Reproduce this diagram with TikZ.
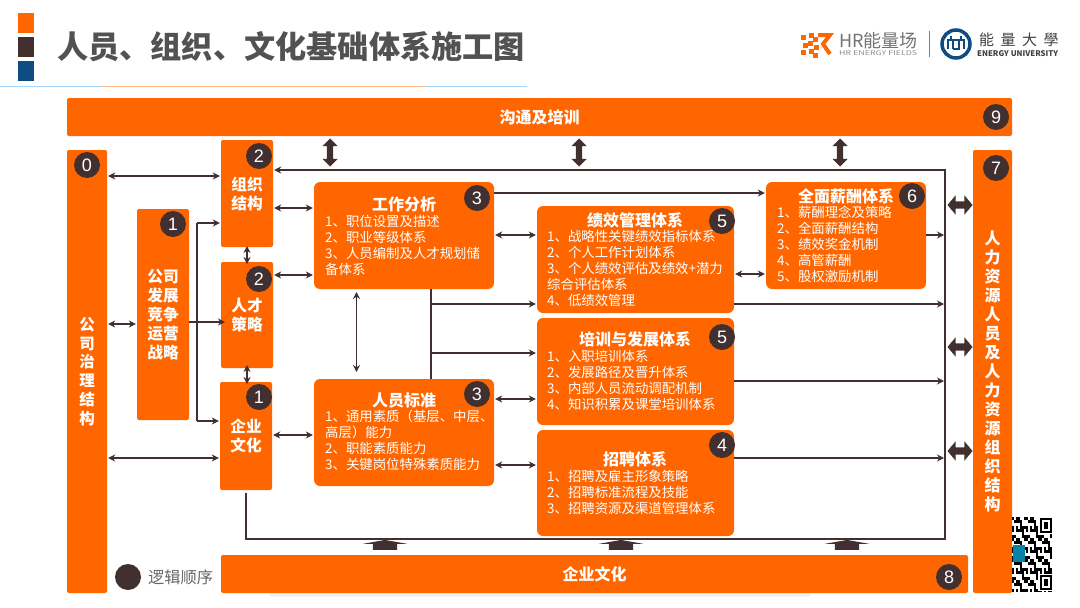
\documentclass[tikz,border=0pt]{standalone}
\usepackage{fontspec}
\setmainfont{Noto Sans CJK SC}
\newfontfamily\numfont{Liberation Sans}
\usetikzlibrary{shapes.arrows, arrows.meta}
\definecolor{hrorange}{HTML}{FF6600}
\definecolor{hrdark}{HTML}{41302F}
\definecolor{hrblue}{HTML}{0F4C81}
\tikzstyle{bar} = [rectangle, rounded corners=2pt, fill=hrorange, inner sep=0pt, text=white, font=\fontsize{15.7}{19}\selectfont\bfseries, align=center]
\tikzstyle{panel} = [rectangle, rounded corners=6pt, fill=hrorange, inner sep=0pt]
\tikzstyle{head} = [inner sep=0pt, text=white, font=\fontsize{16}{19}\selectfont\bfseries]
\tikzstyle{list} = [anchor=north west, inner sep=0pt, text=white, align=left, font=\fontsize{13.4}{16}\selectfont]
\tikzstyle{badge} = [circle, fill=hrdark, text=white, minimum size=26pt, inner sep=0pt, font=\fontsize{18}{18}\selectfont\numfont]
\tikzstyle{arrow} = [draw=hrdark, line width=1.2pt, shorten >=1pt, -{Stealth[length=7pt,width=7pt]}]
\tikzstyle{both} = [draw=hrdark, line width=1.2pt, shorten >=1pt, shorten <=1pt, {Stealth[length=7pt,width=7pt]}-{Stealth[length=7pt,width=7pt]}]
\tikzstyle{plain} = [draw=hrdark, line width=1.2pt]
\tikzstyle{updown} = [double arrow, rotate=90, fill=hrdark, inner xsep=0pt, inner ysep=3pt, minimum height=28pt, double arrow head extend=4.5pt]
\tikzstyle{leftright} = [double arrow, fill=hrdark, inner xsep=0pt, inner ysep=3.5pt, minimum height=25pt, double arrow head extend=6pt, double arrow tip angle=100]
\tikzstyle{upflat} = [single arrow, rotate=90, fill=hrdark, inner xsep=0pt, inner ysep=12pt, minimum height=10pt, single arrow head extend=10pt, single arrow tip angle=160]

\begin{document}
\begin{tikzpicture}[x=1pt, y=-1pt]
\useasboundingbox (0,0) rectangle (1080,608);

% title
\fill[hrorange] (18,13) rectangle (34,33);
\fill[hrdark] (18,37) rectangle (34,57);
\fill[hrblue] (18,61) rectangle (34,81);
\node(title)[anchor=west, inner sep=0pt, text=black!68, font=\fontsize{31.2}{31}\selectfont\bfseries] at (57,47){人员、组织、文化基础体系施工图};
\fill[blue!45!cyan!35!white] (0,85.5) rectangle (527,86.8);
\fill[hrorange!45] (102,85.5) rectangle (426,86.8);

% logos
\foreach \x/\y in {801/35, 803/43, 801/50, 809/33, 808/41, 809/49, 813/37, 814/45, 813/53}
  \fill[hrorange] (\x,\y) rectangle ++(4.5,4.5);
\draw[hrorange, line width=4pt] (818,35) -- (830,35) -- (823,44) -- (830,54);
\node(hrname)[anchor=west, inner sep=0pt, text=black!55, font=\fontsize{18}{18}\selectfont] at (839,41){HR能量场};
\node(hrsub)[anchor=west, inner sep=0pt, text=black!45, font=\fontsize{6.5}{7}\selectfont] at (839,53){\scalebox{1.36}[1]{HR ENERGY FIELDS}};
\draw[black!50, line width=0.6pt] (929.5,31) -- (929.5,57);
\node(unilogo)[circle, draw=hrblue, line width=3.5pt, minimum size=28pt, inner sep=0pt] at (956,44){};
\draw[hrblue, line width=1.6pt] (948,49) -- (948,40) -- (964,40) -- (964,49) (953,49) -- (953,40) (959,40) -- (959,49) -- (953,49) (951,36) -- (951,40) (961,36) -- (961,40);
\node(uniname)[anchor=west, inner sep=0pt, text=black!75, font=\fontsize{15}{15}\selectfont] at (979,40){能\hspace{6.5pt}量\hspace{6.5pt}大\hspace{6.5pt}學};
\node(unisub)[anchor=west, inner sep=0pt, text=black!75, font=\fontsize{7.8}{8}\selectfont\bfseries] at (977,54){ENERGY UNIVERSITY};

% long bars
\fill[black!5] (270,593) rectangle (810,597);
\node(comm)[bar, minimum width=945pt, minimum height=38pt, font=\fontsize{16}{19}\selectfont\bfseries] at (539.5,117){\raisebox{-1.5pt}{沟通及培训}};
\node(base)[bar, minimum width=747pt, minimum height=38pt, font=\fontsize{16}{19}\selectfont\bfseries] at (594.5,574){\raisebox{-1.5pt}{企业文化}};
\node(gov)[bar, minimum width=40pt, minimum height=443pt, font=\fontsize{15.5}{18.8}\selectfont\bfseries] at (87,371.5){公\\司\\治\\理\\结\\构};
\node(hr)[bar, minimum width=39pt, minimum height=443pt, font=\fontsize{16}{19}\selectfont\bfseries] at (992.5,371.5){人\\力\\资\\源\\人\\员\\及\\人\\力\\资\\源\\组\\织\\结\\构};

% left column
\node(strat)[bar, minimum width=52pt, minimum height=211pt] at (163,314.5){公司\\发展\\竞争\\运营\\战略};
\node(org)[bar, minimum width=52pt, minimum height=107pt] at (247,193.5){组织\\结构};
\node(talent)[bar, minimum width=52pt, minimum height=106pt] at (247,315){人才\\策略};
\node(culture)[bar, minimum width=52pt, minimum height=108pt] at (246,436){企业\\文化};

% panels
\node(job)[panel, minimum width=180pt, minimum height=107pt] at (404,235.5){};
\node(std)[panel, minimum width=180pt, minimum height=107pt] at (404,432.5){};
\node(perf)[panel, minimum width=197pt, minimum height=107pt] at (635.5,259.5){};
\node(train)[panel, minimum width=197pt, minimum height=107pt] at (635.5,371.5){};
\node(recruit)[panel, minimum width=197pt, minimum height=106pt] at (635.5,483){};
\node(pay)[panel, minimum width=160pt, minimum height=107pt] at (846,235.5){};

\node(jobh)[head] at (404,204){工作分析};
\node(jobl)[list] at (325,215){1、职位设置及描述\\2、职业等级体系\\3、人员编制及人才规划储\\备体系};
\node(stdh)[head] at (404,401){人员标准};
\node(stdl)[list] at (325,409.5){1、通用素质（基层、中层、\\高层）能力\\2、职能素质能力\\3、关键岗位特殊素质能力};
\node(perfh)[head] at (635,220){绩效管理体系};
\node(perfl)[list] at (547,230){1、战略性关键绩效指标体系\\2、个人工作计划体系\\3、个人绩效评估及绩效+潜力\\综合评估体系\\4、低绩效管理};
\node(trainh)[head] at (635,339){培训与发展体系};
\node(trainl)[list] at (547,350){1、入职培训体系\\2、发展路径及晋升体系\\3、内部人员流动调配机制\\4、知识积累及课堂培训体系};
\node(recruith)[head] at (635,459){招聘体系};
\node(recruitl)[list] at (547,470){1、招聘及雇主形象策略\\2、招聘标准流程及技能\\3、招聘资源及渠道管理体系};
\node(payh)[head] at (846,196){全面薪酬体系};
\node(payl)[list] at (777,206){1、薪酬理念及策略\\2、全面薪酬结构\\3、绩效奖金机制\\4、高管薪酬\\5、股权激励机制};

% order badges
\node(b0)[badge] at (87,165){0};
\node(b1a)[badge] at (173,224){1};
\node(b2a)[badge] at (259,156){2};
\node(b2b)[badge] at (259,279){2};
\node(b1b)[badge] at (259,397){1};
\node(b3a)[badge] at (477,198){3};
\node(b3b)[badge] at (477,394){3};
\node(b5a)[badge] at (722,221){5};
\node(b5b)[badge] at (722,337){5};
\node(b4)[badge] at (722,445){4};
\node(b6)[badge] at (912,196){6};
\node(b7)[badge] at (996,168){7};
\node(b9)[badge] at (996,117){9};
\node(b8)[badge] at (949,577){8};
\node(legend)[badge] at (128,577){};
\node(legendt)[anchor=west, inner sep=0pt, text=black!60, font=\fontsize{16.2}{16}\selectfont] at (148,577){逻辑顺序};

% frame round the panels
\coordinate(framea) at (945,170);
\coordinate(frameb) at (945,539);
\coordinate(framec) at (246,539);
\coordinate(framed) at (246,493);
\draw[arrow](framed) -- (framec) -- (frameb) -- (framea) -- (org.east |- framea);

% left side links
\draw[both](gov.east |- 0,176) -- (org.west |- 0,176);
\draw[both](gov.east |- 0,324) -- (strat.west |- 0,324);
\draw[both](gov.east |- 0,458) -- (culture.west |- 0,458);
\coordinate(forka) at (197,223);
\coordinate(forkb) at (197,421);
\draw[arrow](strat.east |- 0,322) -- (226,322);
\draw[arrow](forka) -- (org.west |- forka);
\draw[arrow](forkb) -- (culture.west |- forkb);
\draw[plain](forka) -- (forkb);
\draw[both](247,245) -- (247,265);
\draw[both](247,364) -- (247,385);
\draw[both](org.east |- 0,208) -- (job.west |- 0,208);
\draw[both](talent.east |- 0,275) -- (job.west |- 0,275);
\draw[both](culture.east |- 0,435) -- (std.west |- 0,435);

% middle links
\draw[both](356.5,291) -- (356.5,373);
\coordinate(joba) at (431,289);
\coordinate(jobb) at (431,379);
\draw[plain](joba) -- (jobb);
\draw[arrow](431,304) -- (perf.west |- 0,304);
\draw[arrow](431,353) -- (train.west |- 0,353);
\draw[arrow](job.east |- 0,193) -- (pay.west |- 0,193);
\draw[both](job.east |- 0,235) -- (perf.west |- 0,235);
\draw[both](std.east |- 0,399) -- (train.west |- 0,399);
\draw[both](std.east |- 0,465) -- (recruit.west |- 0,465);
\draw[both](perf.east |- 0,274) -- (pay.west |- 0,274);

% links into the frame
\draw[arrow](pay.east |- 0,235) -- (945,235);
\draw[arrow](perf.east |- 0,304) -- (945,304);
\draw[arrow](train.east |- 0,381) -- (945,381);
\draw[arrow](recruit.east |- 0,458) -- (945,458);

% block arrows
\foreach \x in {330,579,840}
  \node(comm\x)[updown] at (\x,152.5){};
\foreach \y in {205,347,451}
  \node(side\y)[leftright] at (960,\y){};
\foreach \x in {385,621,847}
  \node(up\x)[upflat] at (\x,546){};

% qr code
\foreach \i in {0,...,19}
  \foreach \j in {0,...,24}{
    \pgfmathtruncatemacro{\test}{mod(\i*\i*3+\j*\j*11+\i*\j*5+\j*2+\i,7)}
    \ifnum\test<3
      \fill[black] (1012+2*\i,517+3*\j) rectangle ++(2,3);
    \fi
  }
\foreach \y in {517,574}{
  \fill[white] (1038,\y) rectangle ++(14,17);
  \fill[black] (1040,\y+1) rectangle ++(12,15);
  \fill[white] (1042,\y+3) rectangle ++(8,11);
  \fill[black] (1044,\y+5) rectangle ++(4,7);
}
\fill[hrblue!70!cyan] (1013,545) rectangle (1025,562);
\end{tikzpicture}
\end{document}
